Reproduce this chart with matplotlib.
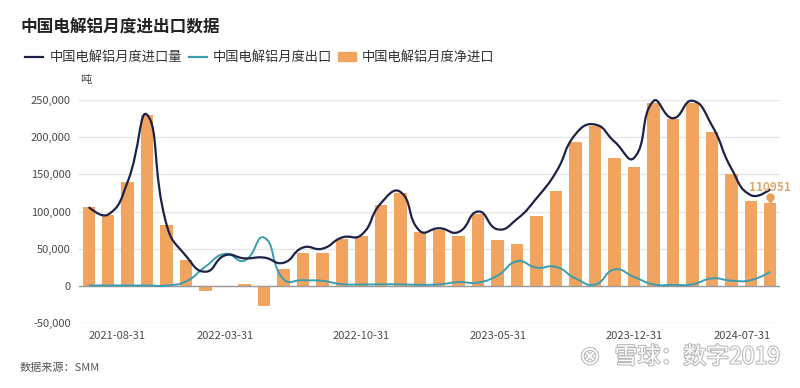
import numpy as np
import matplotlib
matplotlib.use("Agg")
import matplotlib.pyplot as plt
from matplotlib.path import Path
from matplotlib.patches import PathPatch
import matplotlib.patheffects as pe

plt.rcParams['font.family'] = ['Noto Sans CJK SC', 'DejaVu Sans']

# month ends, 2021-08 .. 2024-07
months = [f"{y}-{m:02d}" for y in range(2021, 2025) for m in range(1, 13)]
months = months[7:43]
month_ends = {"01": 31, "02": 28, "03": 31, "04": 30, "05": 31, "06": 30,
              "07": 31, "08": 31, "09": 30, "10": 31, "11": 30, "12": 31}
dates = [f"{m}-{month_ends[m[-2:]]}" for m in months]

imports = [106000, 96000, 140000, 230000, 82000, 40000, 19000, 41000, 37000, 38000,
           31000, 51500, 50000, 65000, 68500, 111000, 126500, 74000, 77500, 72500,
           100000, 76000, 90000, 118000, 153000, 204000, 217000, 194000, 172000, 248500,
           225500, 249000, 216000, 158000, 122000, 130000]
exports = [500, 500, 500, 500, 500, 6000, 26000, 43000, 34000, 65000,
           9000, 7600, 6700, 2200, 1800, 2000, 2000, 1300, 2000, 5000,
           4500, 14000, 33000, 24500, 25500, 10000, 1800, 22000, 12000, 2000,
           1300, 2000, 10000, 7000, 7600, 19000]
net_imports = [105500, 95000, 139500, 229500, 81500, 34500, -7200, -2000, 3000, -27400,
               22000, 43500, 43500, 63000, 67000, 108700, 124400, 72000, 75000, 67400,
               96000, 62000, 56600, 93800, 128000, 194000, 215000, 172000, 160000, 246500,
               224000, 246500, 206500, 151000, 114000, 110951]

tick_idx = [0, 7, 14, 21, 28, 35]

navy = '#1e2146'
teal = '#3a9db0'
orange = '#f0a460'

fig = plt.figure(figsize=(8, 3.88), dpi=100)
ax = fig.add_axes([79 / 800, 1 - 323 / 388, 701 / 800, 223 / 388])

x = np.arange(len(dates))
ax.bar(x, net_imports, width=0.64, color=orange, zorder=2)


def smooth_path(xs, ys, sx=1.0, sy=1.0 / 26200, k=0.5):
    # ECharts-like bezier smoothing through the data points
    px = np.asarray(xs, float) * sx
    py = np.asarray(ys, float) * sy
    n = len(px)
    verts = [(xs[0], ys[0])]
    codes = [Path.MOVETO]
    cps = []
    for i in range(n):
        if i == 0 or i == n - 1:
            cps.append(((px[i], py[i]), (px[i], py[i])))
            continue
        vx, vy = px[i + 1] - px[i - 1], py[i + 1] - py[i - 1]
        d0 = np.hypot(px[i] - px[i - 1], py[i] - py[i - 1])
        d1 = np.hypot(px[i + 1] - px[i], py[i + 1] - py[i])
        r = d0 / (d0 + d1)
        c0 = (px[i] - vx * k * r, py[i] - vy * k * r)
        c1 = (px[i] + vx * k * (1 - r), py[i] + vy * k * (1 - r))
        cps.append((c0, c1))
    for i in range(n - 1):
        a = cps[i][1]
        b = cps[i + 1][0]
        verts += [(a[0] / sx, a[1] / sy), (b[0] / sx, b[1] / sy), (xs[i + 1], ys[i + 1])]
        codes += [Path.CURVE4] * 3
    return Path(verts, codes)


ax.add_patch(PathPatch(smooth_path(x, exports), facecolor='none', edgecolor=teal,
                       lw=1.4, zorder=3, clip_on=False))
ax.add_patch(PathPatch(smooth_path(x, imports), facecolor='none', edgecolor=navy,
                       lw=1.6, zorder=4, clip_on=False))

ax.set_xlim(-0.5, len(dates) - 0.5)
ax.set_ylim(-50000, 250000)
ax.set_yticks(np.arange(-50000, 250001, 50000))
ax.set_yticklabels([f"{v:,}" for v in range(-50000, 250001, 50000)])
ax.grid(axis='y', color='#e6e6e6', lw=1, zorder=0)
ax.axhline(0, color='#9a9a9a', lw=1, zorder=2.5)
for s in ax.spines.values():
    s.set_visible(False)
ax.tick_params(axis='both', length=0, labelsize=8, colors='#4a4a4a')
ax.tick_params(axis='y', pad=6)
ax.set_xticks(tick_idx)
ax.set_xticklabels([dates[i] for i in tick_idx])
xt = ax.get_xticklabels()
xt[0].set_ha('left')
xt[0].set_position((-0.1, 0))
xt[-1].set_ha('right')
xt[-1].set_position((35.1, 0))
ax.tick_params(axis='x', pad=6)

# marker for latest value
last = len(dates) - 1
ax.plot([last], [net_imports[last] + 9000], marker='o', ms=5, color='#e8a05a',
        zorder=6, clip_on=False)
ax.plot([last], [net_imports[last] + 5000], marker='v', ms=4, color='#e8a05a',
        zorder=6, clip_on=False)
ax.text(last, net_imports[last] + 21000, f"{net_imports[last]}", ha='center', va='center',
        fontsize=8.5, color='#d9aa70', fontweight='bold', zorder=7)

fig.text(20 / 800, 1 - 27 / 388, "中国电解铝月度进出口数据", fontsize=12, fontweight='bold',
         color='#222222', va='center', ha='left')

# legend
ly = 1 - 57 / 388
fig.add_artist(plt.Line2D([25 / 800, 43 / 800], [ly, ly], color=navy, lw=1.6))
fig.text(50 / 800, ly, "中国电解铝月度进口量", fontsize=9.5, color='#333333', va='center')
fig.add_artist(plt.Line2D([189 / 800, 207 / 800], [ly, ly], color=teal, lw=1.6))
fig.text(213 / 800, ly, "中国电解铝月度出口", fontsize=9.5, color='#333333', va='center')
fig.add_artist(plt.Rectangle((338 / 800, ly - 4 / 388), 18 / 800, 9 / 388, color=orange))
fig.text(362 / 800, ly, "中国电解铝月度净进口", fontsize=9.5, color='#333333', va='center')

fig.text(80 / 800, 1 - 80 / 388, "吨", fontsize=8, color='#444444', va='center')
fig.text(20 / 800, 1 - 368 / 388, "数据来源：SMM", fontsize=8, color='#555555', va='center')

# watermark
wm_fx = [pe.withStroke(linewidth=1.5, foreground='#b8b8b8')]
fig.text(780 / 800, 1 - 357 / 388, "雪球：数字2019", fontsize=16.5, color='white', ha='right',
         va='center', path_effects=wm_fx)
fig.text(590 / 800, 1 - 357 / 388, "⊗", fontsize=18, color='white', ha='center',
         va='center', family=['DejaVu Sans'], path_effects=wm_fx)

fig.savefig("out.png", dpi=100, facecolor='white')
